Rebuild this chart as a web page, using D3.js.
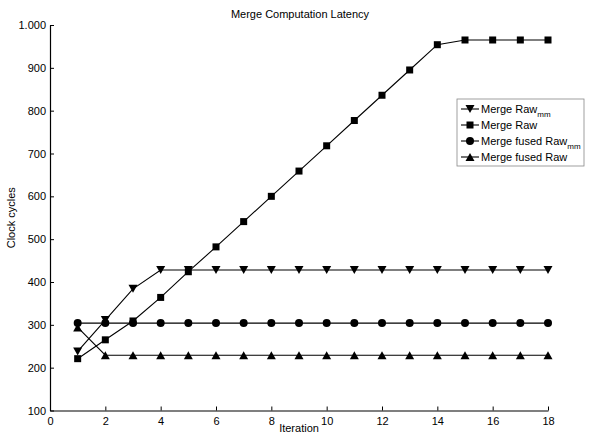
<!DOCTYPE html>
<html>
<head>
<meta charset="utf-8">
<script src="https://cdn.jsdelivr.net/npm/d3@7"></script>
<style>
  body { margin: 0; background: #fff; }
  text { font-family: "Liberation Sans", Arial, sans-serif; fill: #000; }
</style>
</head>
<body>
<script>
// Chart data
var iterations = d3.range(1, 19);
var rawMm = [238, 311, 384, 428, 428, 428, 428, 428, 428, 428, 428, 428, 428, 428, 428, 428, 428, 428];
var raw = [221, 265, 309, 364, 424, 482, 541, 600, 659, 718, 777, 836, 895, 954, 965, 965, 965, 965];
var fusedMm = [304, 304, 304, 304, 304, 304, 304, 304, 304, 304, 304, 304, 304, 304, 304, 304, 304, 304];
var fusedRaw = [294, 229, 229, 229, 229, 229, 229, 229, 229, 229, 229, 229, 229, 229, 229, 229, 229, 229];
var xTicks = [0, 2, 4, 6, 8, 10, 12, 14, 16, 18];
var yTicks = [100, 200, 300, 400, 500, 600, 700, 800, 900, 1000];
var yTickLabels = ["100", "200", "300", "400", "500", "600", "700", "800", "900", "1.000"];

var series = [
  { name: "Merge Raw", sub: "mm", values: rawMm, symbol: "down" },
  { name: "Merge Raw", sub: "", values: raw, symbol: "square" },
  { name: "Merge fused Raw", sub: "mm", values: fusedMm, symbol: "circle" },
  { name: "Merge fused Raw", sub: "", values: fusedRaw, symbol: "up" }
];

var svgWidth = 600;
var svgHeight = 434;
var margin = { top: 25, right: 52, bottom: 23.5, left: 50 };
var chartWidth = svgWidth - margin.left - margin.right;
var chartHeight = svgHeight - margin.top - margin.bottom;

var svg = d3.select("body")
  .append("svg")
  .attr("width", svgWidth)
  .attr("height", svgHeight);

var chartGroup = svg.append("g")
  .attr("transform", `translate(${margin.left}, ${margin.top})`);

var xScale = d3.scaleLinear().domain([0, 18]).range([0, chartWidth]);
var yScale = d3.scaleLinear().domain([100, 1000]).range([chartHeight, 0]);

// Axes with inward ticks
var bottomAxis = d3.axisBottom(xScale).tickValues(xTicks).tickSizeInner(-4).tickSizeOuter(0).tickPadding(8);
var leftAxis = d3.axisLeft(yScale).tickValues(yTicks).tickSizeInner(-4).tickSizeOuter(0).tickPadding(4)
  .tickFormat((d, i) => yTickLabels[i]);

var xAxisG = chartGroup.append("g")
  .attr("transform", `translate(0, ${chartHeight})`)
  .call(bottomAxis);
var yAxisG = chartGroup.append("g").call(leftAxis);

[xAxisG, yAxisG].forEach(function(g) {
  g.selectAll("path").attr("stroke", "#000").attr("stroke-width", 1.2);
  g.selectAll("line").attr("stroke", "#000");
  g.selectAll("text").attr("font-size", "11px").attr("font-family", "Liberation Sans, Arial, sans-serif");
});
xAxisG.selectAll("text").attr("dy", "0.6em");

// Symbols
function drawSymbol(g, type, x, y) {
  if (type === "square") {
    g.append("rect").attr("x", x - 3.5).attr("y", y - 3.5).attr("width", 7).attr("height", 7).attr("fill", "#000");
  } else if (type === "circle") {
    g.append("circle").attr("cx", x).attr("cy", y).attr("r", 4).attr("fill", "#000");
  } else if (type === "down") {
    g.append("path").attr("d", `M${x - 4.5},${y - 4}L${x + 4.5},${y - 4}L${x},${y + 4}Z`).attr("fill", "#000");
  } else {
    g.append("path").attr("d", `M${x - 4.5},${y + 4}L${x + 4.5},${y + 4}L${x},${y - 4}Z`).attr("fill", "#000");
  }
}

var line = d3.line()
  .x((d, i) => xScale(iterations[i]))
  .y(d => yScale(d));

series.forEach(function(s) {
  chartGroup.append("path")
    .datum(s.values)
    .attr("fill", "none")
    .attr("stroke", "#000")
    .attr("stroke-width", 1.1)
    .attr("d", line);
  var g = chartGroup.append("g");
  s.values.forEach(function(v, i) {
    drawSymbol(g, s.symbol, xScale(iterations[i]), yScale(v));
  });
});

// Title and axis labels
svg.append("text")
  .attr("x", 300).attr("y", 18)
  .attr("text-anchor", "middle")
  .attr("font-size", "11px")
  .text("Merge Computation Latency");

svg.append("text")
  .attr("x", margin.left + chartWidth / 2).attr("y", 432)
  .attr("text-anchor", "middle")
  .attr("font-size", "11px")
  .text("Iteration");

svg.append("text")
  .attr("transform", `translate(15, ${margin.top + chartHeight / 2}) rotate(-90)`)
  .attr("text-anchor", "middle")
  .attr("font-size", "11px")
  .text("Clock cycles");

// Legend
var legend = svg.append("g").attr("transform", "translate(457, 99)");
legend.append("rect")
  .attr("width", 127).attr("height", 67)
  .attr("fill", "#fff").attr("stroke", "#888").attr("stroke-width", 0.8);

series.forEach(function(s, i) {
  var y = 10 + i * 16;
  legend.append("line")
    .attr("x1", 4).attr("x2", 22).attr("y1", y).attr("y2", y)
    .attr("stroke", "#000").attr("stroke-width", 1.1);
  drawSymbol(legend, s.symbol, 13, y);
  var t = legend.append("text")
    .attr("x", 24).attr("y", y + 4)
    .attr("font-size", "11px")
    .text(s.name);
  if (s.sub) {
    t.append("tspan").attr("dy", 4).attr("font-size", "8px").text(s.sub);
  }
});
</script>
</body>
</html>
